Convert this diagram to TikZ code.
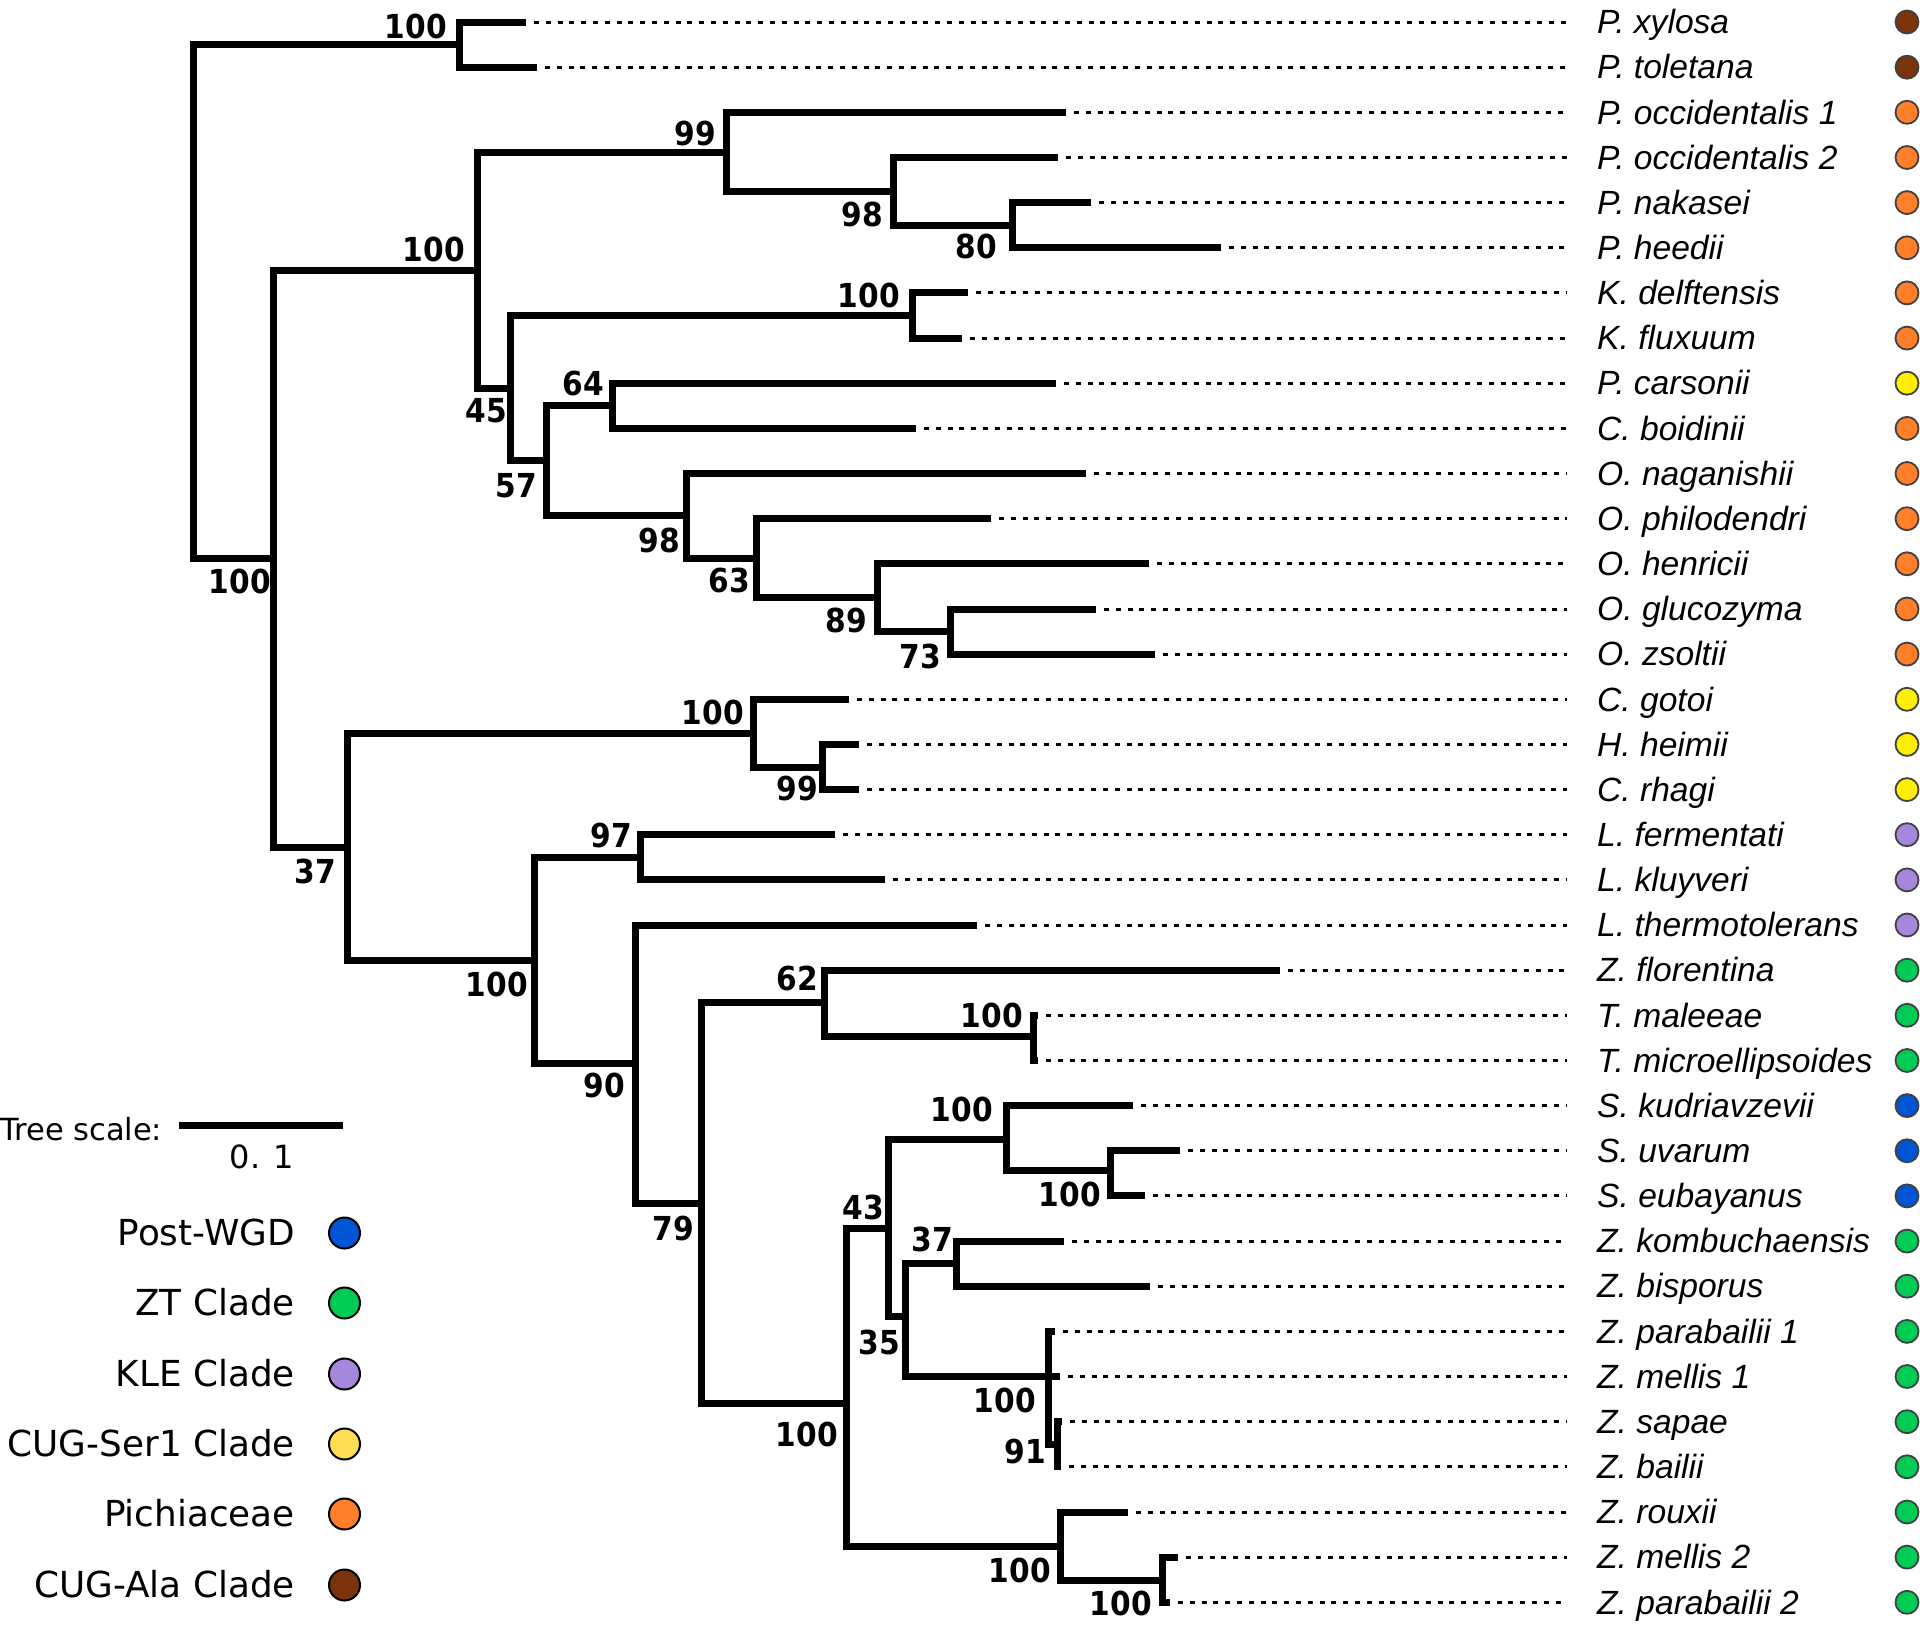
\documentclass[tikz,border=0pt]{standalone}
\usepackage{tikz}
\usepackage{fontspec}
\setmainfont{DejaVu Sans}
\newfontfamily\tipfont{Liberation Sans}
\newfontfamily\bootfont[FakeStretch=0.9]{DejaVu Sans}

\definecolor{cugala}{RGB}{122,51,10}
\definecolor{pichia}{RGB}{255,127,42}
\definecolor{sertip}{RGB}{255,240,0}
\definecolor{serleg}{RGB}{255,221,85}
\definecolor{kle}{RGB}{166,135,221}
\definecolor{zt}{RGB}{0,204,85}
\definecolor{wgd}{RGB}{0,85,212}

\begin{document}
\begin{tikzpicture}[x=1pt, y=-1pt,
    branch/.style={line width=7pt},
    guide/.style={line width=3pt, dash pattern=on 5pt off 6.8pt, shorten <=8pt, shorten >=30pt},
    tip/.style={anchor=west, inner sep=0pt, text height=23.5pt, text depth=0pt,
        font=\tipfont\itshape\fontsize{33.6}{36}\selectfont},
    dot/.style={circle, draw=black!75, line width=1.8pt, minimum size=23pt, inner sep=0pt},
    bs/.style={anchor=east, inner sep=0pt, text height=24pt, text depth=0pt,
        font=\bootfont\bfseries\fontsize{33}{36}\selectfont},
    legtext/.style={anchor=east, inner sep=0pt, text height=25.5pt, text depth=0pt,
        font=\fontsize{35.8}{38}\selectfont},
    legdot/.style={circle, draw=black, line width=2pt, minimum size=31pt, inner sep=0pt}]

    \useasboundingbox (0,0) rectangle (1920,1638);

    % leaves: branch end, name, clade dot
    \coordinate (t1) at (526,22);      \node[tip] (l1) at (1597,22) {P. xylosa};              \node[dot, fill=cugala] (d1) at (1907,22) {};
    \coordinate (t2) at (537,67.2);    \node[tip] (l2) at (1597,67.2) {P. toletana};          \node[dot, fill=cugala] (d2) at (1907,67.2) {};
    \coordinate (t3) at (1066,112.3);  \node[tip] (l3) at (1597,112.3) {P. occidentalis 1};   \node[dot, fill=pichia] (d3) at (1907,112.3) {};
    \coordinate (t4) at (1058,157.5);  \node[tip] (l4) at (1597,157.5) {P. occidentalis 2};   \node[dot, fill=pichia] (d4) at (1907,157.5) {};
    \coordinate (t5) at (1091,202.6);  \node[tip] (l5) at (1597,202.6) {P. nakasei};          \node[dot, fill=pichia] (d5) at (1907,202.6) {};
    \coordinate (t6) at (1221,247.8);  \node[tip] (l6) at (1597,247.8) {P. heedii};           \node[dot, fill=pichia] (d6) at (1907,247.8) {};
    \coordinate (t7) at (968,292.9);   \node[tip] (l7) at (1597,292.9) {K. delftensis};       \node[dot, fill=pichia] (d7) at (1907,292.9) {};
    \coordinate (t8) at (962,338.1);   \node[tip] (l8) at (1597,338.1) {K. fluxuum};          \node[dot, fill=pichia] (d8) at (1907,338.1) {};
    \coordinate (t9) at (1056,383.2);  \node[tip] (l9) at (1597,383.2) {P. carsonii};         \node[dot, fill=sertip] (d9) at (1907,383.2) {};
    \coordinate (t10) at (916,428.4);  \node[tip] (l10) at (1597,428.4) {C. boidinii};        \node[dot, fill=pichia] (d10) at (1907,428.4) {};
    \coordinate (t11) at (1086,473.5); \node[tip] (l11) at (1597,473.5) {O. naganishii};      \node[dot, fill=pichia] (d11) at (1907,473.5) {};
    \coordinate (t12) at (991,518.7);  \node[tip] (l12) at (1597,518.7) {O. philodendri};     \node[dot, fill=pichia] (d12) at (1907,518.7) {};
    \coordinate (t13) at (1149,563.8); \node[tip] (l13) at (1597,563.8) {O. henricii};        \node[dot, fill=pichia] (d13) at (1907,563.8) {};
    \coordinate (t14) at (1096,609);   \node[tip] (l14) at (1597,609) {O. glucozyma};         \node[dot, fill=pichia] (d14) at (1907,609) {};
    \coordinate (t15) at (1155,654.1); \node[tip] (l15) at (1597,654.1) {O. zsoltii};         \node[dot, fill=pichia] (d15) at (1907,654.1) {};
    \coordinate (t16) at (849,699.3);  \node[tip] (l16) at (1597,699.3) {C. gotoi};           \node[dot, fill=sertip] (d16) at (1907,699.3) {};
    \coordinate (t17) at (859,744.4);  \node[tip] (l17) at (1597,744.4) {H. heimii};          \node[dot, fill=sertip] (d17) at (1907,744.4) {};
    \coordinate (t18) at (859,789.6);  \node[tip] (l18) at (1597,789.6) {C. rhagi};           \node[dot, fill=sertip] (d18) at (1907,789.6) {};
    \coordinate (t19) at (835,834.7);  \node[tip] (l19) at (1597,834.7) {L. fermentati};      \node[dot, fill=kle] (d19) at (1907,834.7) {};
    \coordinate (t20) at (885,879.9);  \node[tip] (l20) at (1597,879.9) {L. kluyveri};        \node[dot, fill=kle] (d20) at (1907,879.9) {};
    \coordinate (t21) at (977,925);    \node[tip] (l21) at (1597,925) {L. thermotolerans};    \node[dot, fill=kle] (d21) at (1907,925) {};
    \coordinate (t22) at (1280,970.2); \node[tip] (l22) at (1597,970.2) {Z. florentina};      \node[dot, fill=zt] (d22) at (1907,970.2) {};
    \coordinate (t23) at (1038,1015.3); \node[tip] (l23) at (1597,1015.3) {T. maleeae};       \node[dot, fill=zt] (d23) at (1907,1015.3) {};
    \coordinate (t24) at (1038,1060.5); \node[tip] (l24) at (1597,1060.5) {T. microellipsoides}; \node[dot, fill=zt] (d24) at (1907,1060.5) {};
    \coordinate (t25) at (1133,1105.6); \node[tip] (l25) at (1597,1105.6) {S. kudriavzevii};  \node[dot, fill=wgd] (d25) at (1907,1105.6) {};
    \coordinate (t26) at (1180,1150.8); \node[tip] (l26) at (1597,1150.8) {S. uvarum};        \node[dot, fill=wgd] (d26) at (1907,1150.8) {};
    \coordinate (t27) at (1145,1195.9); \node[tip] (l27) at (1597,1195.9) {S. eubayanus};     \node[dot, fill=wgd] (d27) at (1907,1195.9) {};
    \coordinate (t28) at (1064,1241.1); \node[tip] (l28) at (1597,1241.1) {Z. kombuchaensis}; \node[dot, fill=zt] (d28) at (1907,1241.1) {};
    \coordinate (t29) at (1150,1286.2); \node[tip] (l29) at (1597,1286.2) {Z. bisporus};      \node[dot, fill=zt] (d29) at (1907,1286.2) {};
    \coordinate (t30) at (1055,1331.4); \node[tip] (l30) at (1597,1331.4) {Z. parabailii 1};  \node[dot, fill=zt] (d30) at (1907,1331.4) {};
    \coordinate (t31) at (1060,1376.5); \node[tip] (l31) at (1597,1376.5) {Z. mellis 1};      \node[dot, fill=zt] (d31) at (1907,1376.5) {};
    \coordinate (t32) at (1062,1421.7); \node[tip] (l32) at (1597,1421.7) {Z. sapae};         \node[dot, fill=zt] (d32) at (1907,1421.7) {};
    \coordinate (t33) at (1061,1466.8); \node[tip] (l33) at (1597,1466.8) {Z. bailii};        \node[dot, fill=zt] (d33) at (1907,1466.8) {};
    \coordinate (t34) at (1128,1512);   \node[tip] (l34) at (1597,1512) {Z. rouxii};          \node[dot, fill=zt] (d34) at (1907,1512) {};
    \coordinate (t35) at (1178,1557.1); \node[tip] (l35) at (1597,1557.1) {Z. mellis 2};      \node[dot, fill=zt] (d35) at (1907,1557.1) {};
    \coordinate (t36) at (1170,1602.3); \node[tip] (l36) at (1597,1602.3) {Z. parabailii 2};  \node[dot, fill=zt] (d36) at (1907,1602.3) {};

    % dotted guides
    \draw[guide] (t1) -- (t1 -| l1.west);   \draw[guide] (t2) -- (t2 -| l2.west);
    \draw[guide] (t3) -- (t3 -| l3.west);   \draw[guide] (t4) -- (t4 -| l4.west);
    \draw[guide] (t5) -- (t5 -| l5.west);   \draw[guide] (t6) -- (t6 -| l6.west);
    \draw[guide] (t7) -- (t7 -| l7.west);   \draw[guide] (t8) -- (t8 -| l8.west);
    \draw[guide] (t9) -- (t9 -| l9.west);   \draw[guide] (t10) -- (t10 -| l10.west);
    \draw[guide] (t11) -- (t11 -| l11.west); \draw[guide] (t12) -- (t12 -| l12.west);
    \draw[guide] (t13) -- (t13 -| l13.west); \draw[guide] (t14) -- (t14 -| l14.west);
    \draw[guide] (t15) -- (t15 -| l15.west); \draw[guide] (t16) -- (t16 -| l16.west);
    \draw[guide] (t17) -- (t17 -| l17.west); \draw[guide] (t18) -- (t18 -| l18.west);
    \draw[guide] (t19) -- (t19 -| l19.west); \draw[guide] (t20) -- (t20 -| l20.west);
    \draw[guide] (t21) -- (t21 -| l21.west); \draw[guide] (t22) -- (t22 -| l22.west);
    \draw[guide] (t23) -- (t23 -| l23.west); \draw[guide] (t24) -- (t24 -| l24.west);
    \draw[guide] (t25) -- (t25 -| l25.west); \draw[guide] (t26) -- (t26 -| l26.west);
    \draw[guide] (t27) -- (t27 -| l27.west); \draw[guide] (t28) -- (t28 -| l28.west);
    \draw[guide] (t29) -- (t29 -| l29.west); \draw[guide] (t30) -- (t30 -| l30.west);
    \draw[guide] (t31) -- (t31 -| l31.west); \draw[guide] (t32) -- (t32 -| l32.west);
    \draw[guide] (t33) -- (t33 -| l33.west); \draw[guide] (t34) -- (t34 -| l34.west);
    \draw[guide] (t35) -- (t35 -| l35.west); \draw[guide] (t36) -- (t36 -| l36.west);

    % inner nodes
    \coordinate (root) at (193,301.5);
    \coordinate (n1) at (459.5,44.6);
    \coordinate (n2) at (273.6,558);
    \coordinate (n3) at (477,270);
    \coordinate (n4) at (726,152);
    \coordinate (n5) at (893,191.3);
    \coordinate (n6) at (1012,225.2);
    \coordinate (n7) at (510.7,388);
    \coordinate (nk) at (912,315.5);
    \coordinate (n8) at (546,460.8);
    \coordinate (n9) at (612,405.8);
    \coordinate (n10) at (686,515.8);
    \coordinate (n11) at (756,558.2);
    \coordinate (n12) at (877,597.7);
    \coordinate (n13) at (950.5,631.5);
    \coordinate (n14) at (347,847);
    \coordinate (n15) at (753,733.1);
    \coordinate (n16) at (822,767);
    \coordinate (n17) at (534.5,960.6);
    \coordinate (n18) at (640,857.3);
    \coordinate (n19) at (635,1063);
    \coordinate (n20) at (701.5,1203);
    \coordinate (n21) at (824,1002);
    \coordinate (n22) at (1033,1036);
    \coordinate (n23) at (846,1403);
    \coordinate (n24) at (888,1228.3);
    \coordinate (n25) at (1006,1139.5);
    \coordinate (n26) at (1110,1170);
    \coordinate (n27) at (905,1316);
    \coordinate (n28) at (956.6,1263.6);
    \coordinate (n29) at (1048,1376.5);
    \coordinate (n30) at (1057,1444.2);
    \coordinate (n31) at (1060,1546);
    \coordinate (n32) at (1162,1580);

    % branches
    \draw[branch] (root) |- (n1) (root) |- (n2);
    \draw[branch] (n1) |- (t1) (n1) |- (t2);
    \draw[branch] (n2) |- (n3) (n2) |- (n14);
    \draw[branch] (n3) |- (n4) (n3) |- (n7);
    \draw[branch] (n4) |- (t3) (n4) |- (n5);
    \draw[branch] (n5) |- (t4) (n5) |- (n6);
    \draw[branch] (n6) |- (t5) (n6) |- (t6);
    \draw[branch] (n7) |- (nk) (n7) |- (n8);
    \draw[branch] (nk) |- (t7) (nk) |- (t8);
    \draw[branch] (n8) |- (n9) (n8) |- (n10);
    \draw[branch] (n9) |- (t9) (n9) |- (t10);
    \draw[branch] (n10) |- (t11) (n10) |- (n11);
    \draw[branch] (n11) |- (t12) (n11) |- (n12);
    \draw[branch] (n12) |- (t13) (n12) |- (n13);
    \draw[branch] (n13) |- (t14) (n13) |- (t15);
    \draw[branch] (n14) |- (n15) (n14) |- (n17);
    \draw[branch] (n15) |- (t16) (n15) |- (n16);
    \draw[branch] (n16) |- (t17) (n16) |- (t18);
    \draw[branch] (n17) |- (n18) (n17) |- (n19);
    \draw[branch] (n18) |- (t19) (n18) |- (t20);
    \draw[branch] (n19) |- (t21) (n19) |- (n20);
    \draw[branch] (n20) |- (n21) (n20) |- (n23);
    \draw[branch] (n21) |- (t22) (n21) |- (n22);
    \draw[branch] (n22) |- (t23) (n22) |- (t24);
    \draw[branch] (n23) |- (n24) (n23) |- (n31);
    \draw[branch] (n24) |- (n25) (n24) |- (n27);
    \draw[branch] (n25) |- (t25) (n25) |- (n26);
    \draw[branch] (n26) |- (t26) (n26) |- (t27);
    \draw[branch] (n27) |- (n28) (n27) |- (n29);
    \draw[branch] (n28) |- (t28) (n28) |- (t29);
    \draw[branch] (n29) |- (t30) (n29) |- (t31) (n29) |- (n30);
    \draw[branch] (n30) |- (t32) (n30) |- (t33);
    \draw[branch] (n31) |- (t34) (n31) |- (n32);
    \draw[branch] (n32) |- (t35) (n32) |- (t36);

    % bootstrap support
    \node[bs] (b1) at (447,26) {100};
    \node[bs] (b2) at (271,581) {100};
    \node[bs] (b3) at (465,249) {100};
    \node[bs] (b4) at (716,133.5) {99};
    \node[bs] (b5) at (883,214.6) {98};
    \node[bs] (b6) at (997,246.5) {80};
    \node[bs] (bk) at (900,295.5) {100};
    \node[bs] (b7) at (507,410) {45};
    \node[bs] (b8) at (537,485) {57};
    \node[bs] (b9) at (604,383) {64};
    \node[bs] (b10) at (680,540) {98};
    \node[bs] (b11) at (750,580) {63};
    \node[bs] (b12) at (867,620) {89};
    \node[bs] (b13) at (941,656) {73};
    \node[bs] (b14) at (336,871) {37};
    \node[bs] (b15) at (744,712) {100};
    \node[bs] (b16) at (818,788) {99};
    \node[bs] (b17) at (528,984.5) {100};
    \node[bs] (b18) at (632,835.6) {97};
    \node[bs] (b19) at (625,1085.5) {90};
    \node[bs] (b20) at (694,1228.6) {79};
    \node[bs] (b21) at (818,978.6) {62};
    \node[bs] (b22) at (1023,1015) {100};
    \node[bs] (b23) at (838,1434) {100};
    \node[bs] (b24) at (884,1207) {43};
    \node[bs] (b25) at (993,1109.4) {100};
    \node[bs] (b26) at (1101,1194.6) {100};
    \node[bs] (b27) at (900,1342.6) {35};
    \node[bs] (b28) at (953,1239.4) {37};
    \node[bs] (b29) at (1036,1400) {100};
    \node[bs] (b30) at (1046,1451) {91};
    \node[bs] (b31) at (1051,1570) {100};
    \node[bs] (b32) at (1152,1603) {100};

    % tree scale
    \node[legtext, anchor=west, font=\fontsize{30.5}{34}\selectfont] (scaletext) at (0,1128) {Tree scale:};
    \coordinate (sb1) at (179,1125.5);
    \coordinate (sb2) at (343,1125.5);
    \draw[branch] (sb1) -- (sb2);
    \node[font=\fontsize{32}{36}\selectfont, inner sep=0pt] (scaleval) at (262,1156.5) {0. 1};

    % legend
    \node[legtext] (g1) at (295,1233) {Post-WGD};       \node[legdot, fill=wgd] (k1) at (344.5,1233) {};
    \node[legtext] (g2) at (295,1303) {ZT Clade};       \node[legdot, fill=zt] (k2) at (344.5,1303) {};
    \node[legtext] (g3) at (295,1374) {KLE Clade};      \node[legdot, fill=kle] (k3) at (344.5,1374) {};
    \node[legtext] (g4) at (295,1444) {CUG-Ser1 Clade}; \node[legdot, fill=serleg] (k4) at (344.5,1444) {};
    \node[legtext] (g5) at (295,1514) {Pichiaceae};     \node[legdot, fill=pichia] (k5) at (344.5,1514) {};
    \node[legtext] (g6) at (295,1585) {CUG-Ala Clade};  \node[legdot, fill=cugala] (k6) at (344.5,1585) {};

\end{tikzpicture}
\end{document}
